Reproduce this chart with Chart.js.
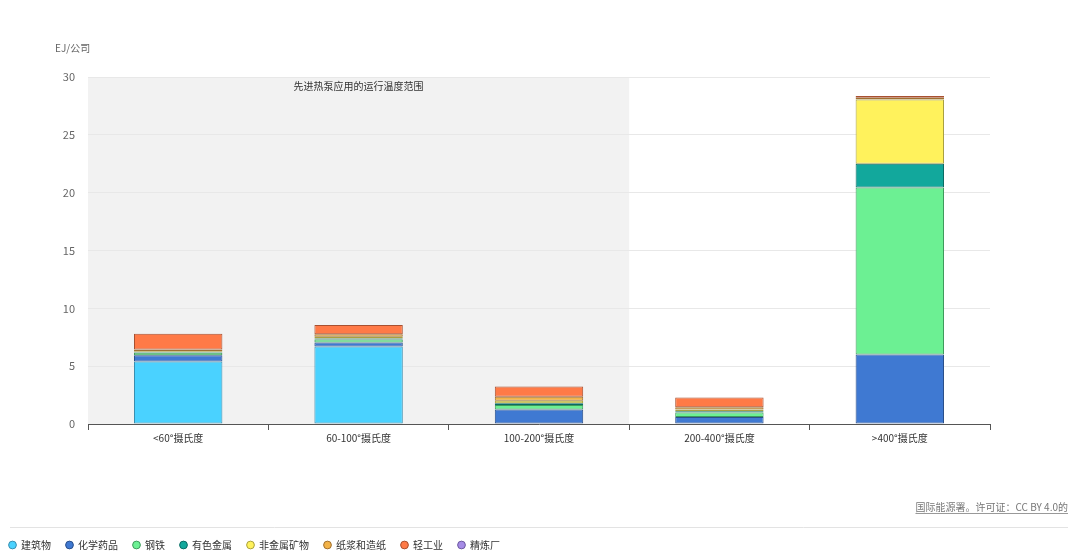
<!DOCTYPE html>
<html>
<head>
<meta charset="utf-8">
<script src="https://cdn.jsdelivr.net/npm/chart.js@4"></script>
<style>
  html, body { margin: 0; padding: 0; background: #fff; }
  #wrap { width: 1080px; height: 559px; position: relative; }
</style>
</head>
<body>
<div id="wrap"><canvas id="chart"></canvas></div>
<script>
// 类别和数值 (EJ)
const categories = ['<60°摄氏度', '60-100°摄氏度', '100-200°摄氏度', '200-400°摄氏度', '>400°摄氏度'];
const buildings = [5.4, 6.7, 0, 0, 0];
const chemicals = [0.55, 0.35, 1.25, 0.6, 6.0];
const steel = [0.2, 0.25, 0.4, 0.4, 14.45];
const nonFerrous = [0.05, 0.1, 0.15, 0.1, 2.05];
const nonMetallic = [0.1, 0.15, 0.2, 0.15, 5.55];
const paper = [0.15, 0.2, 0.35, 0.2, 0.15];
const lightIndustry = [1.35, 0.8, 0.9, 0.85, 0.15];
const refinery = [0, 0, 0, 0, 0];
const yTicks = [0, 5, 10, 15, 20, 25, 30];

const bandLabel = '先进热泵应用的运行温度范围';
const bandFrom = 0, bandTo = 2;   // 阴影覆盖的类别索引
const yTitle = 'EJ/公司';
const sourceText = '国际能源署。许可证：CC BY 4.0的';

Chart.defaults.font.family = "'Noto Sans CJK SC', 'Noto Sans', sans-serif";

function ds(label, data, fill, border) {
  return {
    label: label,
    data: data,
    backgroundColor: fill,
    borderColor: border,
    borderWidth: 1,
    borderSkipped: false,
    barPercentage: 0.49,
    categoryPercentage: 1.0
  };
}

// 阴影区域、标题、来源
const bandPlugin = {
  id: 'band',
  beforeDraw(chart) {
    const { ctx, scales } = chart;
    const x = scales.x, y = scales.y;
    const half = (x.getPixelForValue(1) - x.getPixelForValue(0)) / 2;
    const left = x.getPixelForValue(bandFrom) - half;
    const right = x.getPixelForValue(bandTo) + half;
    const top = y.getPixelForValue(30);
    const bottom = y.getPixelForValue(0);
    ctx.save();
    ctx.fillStyle = '#f2f2f2';
    ctx.fillRect(left, top, right - left, bottom - top);
    ctx.fillStyle = '#333';
    ctx.font = "10px 'Noto Sans CJK SC', sans-serif";
    ctx.textAlign = 'center';
    ctx.textBaseline = 'middle';
    ctx.fillText(bandLabel, (left + right) / 2, top + 9);
    // y 轴标题
    ctx.fillStyle = '#666';
    ctx.textAlign = 'left';
    ctx.fillText(yTitle, 55, 48);
    ctx.restore();
  },
  afterDraw(chart) {
    const { ctx } = chart;
    ctx.save();
    ctx.font = "10px 'Noto Sans CJK SC', sans-serif";
    ctx.fillStyle = '#777';
    ctx.textAlign = 'right';
    ctx.textBaseline = 'middle';
    const sx = 1068, sy = 507;
    ctx.fillText(sourceText, sx, sy);
    const w = ctx.measureText(sourceText).width;
    ctx.strokeStyle = '#999';
    ctx.lineWidth = 1;
    ctx.beginPath();
    ctx.moveTo(sx - w, sy + 6.5);
    ctx.lineTo(sx, sy + 6.5);
    ctx.stroke();
    // 分隔线
    ctx.strokeStyle = '#e3e3e3';
    ctx.beginPath();
    ctx.moveTo(10, 527.5);
    ctx.lineTo(1068, 527.5);
    ctx.stroke();
    ctx.restore();
  }
};

new Chart(document.getElementById('chart'), {
  type: 'bar',
  data: {
    labels: categories,
    datasets: [
      ds('建筑物', buildings, '#4ad2ff', '#3a8fb0'),
      ds('化学药品', chemicals, '#3f79d2', '#2a4f8a'),
      ds('钢铁', steel, '#6cf093', '#3f9a5c'),
      ds('有色金属', nonFerrous, '#12a89c', '#0b6b63'),
      ds('非金属矿物', nonMetallic, '#fff25c', '#a9a040'),
      ds('纸浆和造纸', paper, '#f2b247', '#a07030'),
      ds('轻工业', lightIndustry, '#ff7a47', '#a85030'),
      ds('精炼厂', refinery, '#a58be6', '#6d5aa0')
    ]
  },
  options: {
    responsive: true,
    maintainAspectRatio: false,
    animation: false,
    layout: { padding: { left: -6, right: 90, top: 77, bottom: -1 } },
    plugins: {
      legend: {
        position: 'bottom',
        align: 'start',
        labels: {
          usePointStyle: true,
          pointStyle: 'circle',
          boxWidth: 7,
          boxHeight: 5.5,
          padding: 15,
          color: '#333',
          font: { size: 10 }
        }
      },
      tooltip: { enabled: false }
    },
    scales: {
      x: {
        stacked: true,
        offset: true,
        afterFit(s) { s.height = 101; },
        grid: {
          offset: true,
          drawOnChartArea: false,
          drawTicks: true,
          tickLength: 6,
          color: '#555'
        },
        border: { display: true, color: '#555' },
        ticks: { color: '#333', font: { size: 10 }, padding: 2 }
      },
      y: {
        stacked: true,
        min: 0,
        max: 30,
        afterFit(s) { s.width = 94; },
        afterBuildTicks(s) { s.ticks = yTicks.map(v => ({ value: v })); },
        grid: { color: '#e8e8e8', drawTicks: false },
        border: { display: false },
        ticks: { color: '#666', font: { size: 11 }, padding: 13 }
      }
    }
  },
  plugins: [bandPlugin]
});
</script>
</body>
</html>
